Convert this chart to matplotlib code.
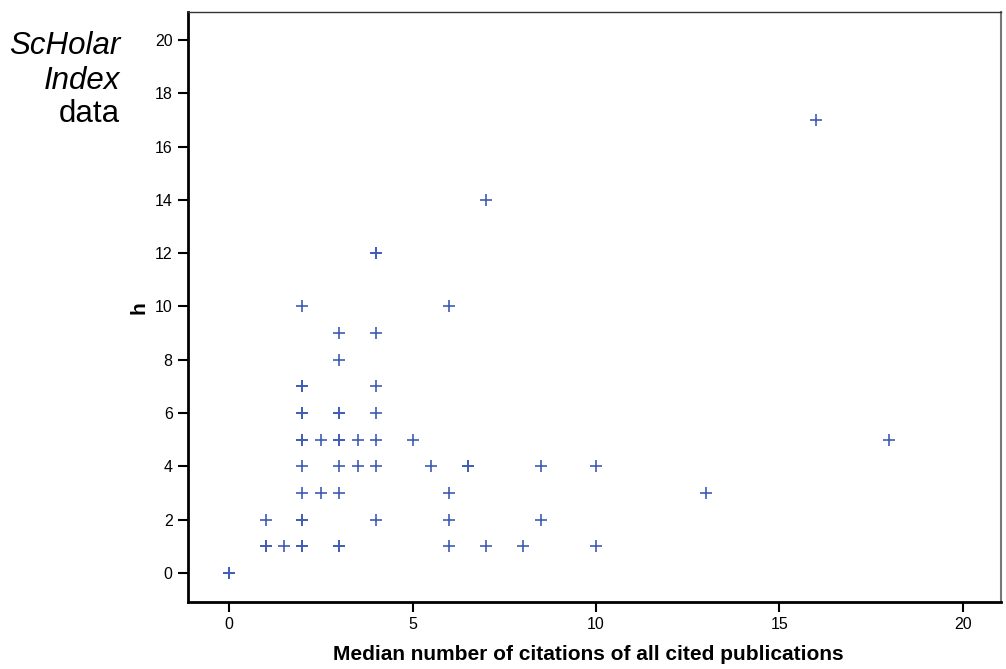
import numpy as np
import matplotlib.pyplot as plt

plt.rcParams['font.family'] = ['Liberation Sans', 'DejaVu Sans']

# median citations (x) and h-index (y), repeated pairs are overplotted points
median_cit = [0, 0, 1, 1, 1, 1.5,
              2, 2, 2, 2, 2, 2, 2, 2, 2, 2, 2, 2, 2,
              2.5, 2.5,
              3, 3, 3, 3, 3, 3, 3, 3, 3, 3,
              3.5, 3.5,
              4, 4, 4, 4, 4, 4, 4, 4,
              5, 5.5, 6, 6, 6, 6, 6.5, 6.5, 7, 7, 8, 8.5, 8.5,
              10, 10, 13, 16, 18]
h_index = [0, 0, 1, 1, 2, 1,
           1, 1, 2, 2, 3, 4, 5, 5, 6, 6, 7, 7, 10,
           3, 5,
           1, 1, 3, 4, 5, 5, 6, 6, 8, 9,
           4, 5,
           2, 4, 5, 6, 7, 9, 12, 12,
           5, 4, 1, 2, 3, 10, 4, 4, 1, 14, 1, 2, 4,
           1, 4, 3, 17, 5]

xticks = [0, 5, 10, 15, 20]
yticks = [0, 2, 4, 6, 8, 10, 12, 14, 16, 18, 20]

fig = plt.figure(figsize=(10.06, 6.69), dpi=100)
ax = fig.add_axes([0.1869, 0.1001, 0.8081, 0.8820])

ax.plot(median_cit, h_index, linestyle='none', marker='+', markersize=8.5,
        markeredgewidth=1.2, color='#3f5bb5')

ax.set_xlim(-1.12, 21.04)
ax.set_ylim(-1.09, 21.05)
ax.set_xticks(xticks)
ax.set_yticks(yticks)
ax.tick_params(direction='out', length=7, width=1.5, labelsize=11.5, pad=4)

ax.spines['left'].set_linewidth(2)
ax.spines['bottom'].set_linewidth(2)
ax.spines['top'].set_linewidth(1)
ax.spines['top'].set_color('#333333')
ax.spines['right'].set_linewidth(1.5)
ax.spines['right'].set_color('#777777')

fig.text(588 / 1006, 1 - 655 / 669, 'Median number of citations of all cited publications',
         ha='center', va='center', fontsize=15, fontweight='bold')
fig.text(139 / 1006, 1 - 308 / 669, 'h', ha='center', va='center',
         fontsize=15, fontweight='bold', rotation=90)

fig.text(120 / 1006, 1 - 46 / 669, 'ScHolar', ha='right', va='center',
         fontsize=22.5, style='italic')
fig.text(120 / 1006, 1 - 81 / 669, 'Index', ha='right', va='center',
         fontsize=22.5, style='italic')
fig.text(120 / 1006, 1 - 114 / 669, 'data', ha='right', va='center', fontsize=22.5)

fig.savefig('out.png', dpi=100)
